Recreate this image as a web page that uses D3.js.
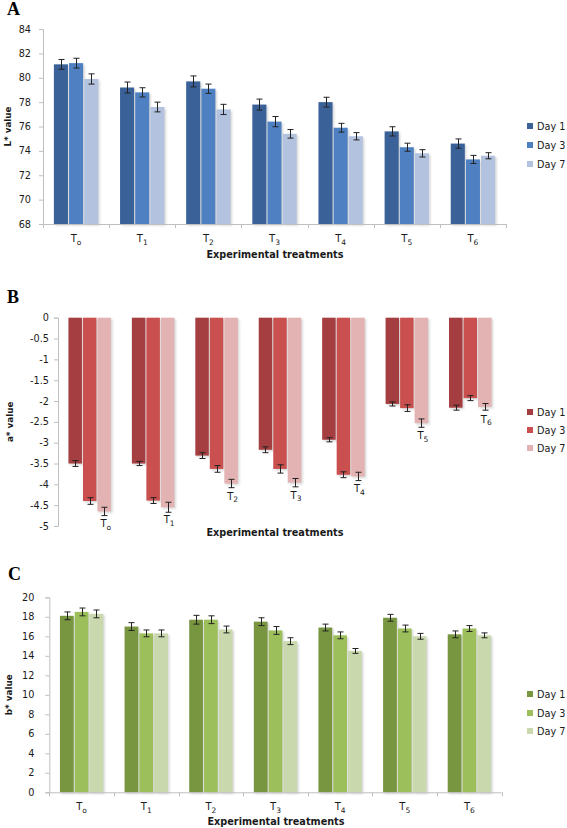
<!DOCTYPE html>
<html>
<head>
<meta charset="utf-8">
<script src="https://cdn.jsdelivr.net/npm/d3@7"></script>
<style>
  html, body { margin: 0; padding: 0; background: #ffffff; }
  svg { display: block; font-family: "DejaVu Sans", Verdana, sans-serif; }
</style>
</head>
<body>
<svg id="chart" width="567" height="828"></svg>
<script>
// ---------- DATA ----------
const categories = ["T0", "T1", "T2", "T3", "T4", "T5", "T6"];
const catSubs = ["o", "1", "2", "3", "4", "5", "6"];
const days = ["Day 1", "Day 3", "Day 7"];

// Panel A: L* value
const lDay1 = [81.1, 79.2, 79.7, 77.8, 78.0, 75.6, 74.6];
const lDay3 = [81.2, 78.8, 79.1, 76.4, 75.9, 74.3, 73.3];
const lDay7 = [79.9, 77.6, 77.4, 75.4, 75.2, 73.8, 73.6];
const lErr1 = [0.4, 0.45, 0.45, 0.45, 0.4, 0.38, 0.38];
const lErr3 = [0.4, 0.38, 0.38, 0.42, 0.36, 0.33, 0.33];
const lErr7 = [0.42, 0.4, 0.42, 0.35, 0.3, 0.3, 0.25];
const lTicks = [68, 70, 72, 74, 76, 78, 80, 82, 84];

// Panel B: a* value
const aDay1 = [-3.5, -3.5, -3.31, -3.17, -2.93, -2.07, -2.16];
const aDay3 = [-4.4, -4.39, -3.63, -3.63, -3.77, -2.17, -1.93];
const aDay7 = [-4.65, -4.55, -3.98, -3.96, -3.81, -2.53, -2.14];
const aErr1 = [0.07, 0.05, 0.07, 0.07, 0.05, 0.05, 0.06];
const aErr3 = [0.08, 0.07, 0.08, 0.1, 0.07, 0.08, 0.06];
const aErr7 = [0.1, 0.12, 0.1, 0.1, 0.1, 0.1, 0.08];
const aTicks = [0, -0.5, -1, -1.5, -2, -2.5, -3, -3.5, -4, -4.5, -5];

// Panel C: b* value
const bDay1 = [18.1, 17.0, 17.7, 17.5, 16.9, 17.9, 16.2];
const bDay3 = [18.5, 16.3, 17.7, 16.6, 16.1, 16.8, 16.8];
const bDay7 = [18.3, 16.3, 16.7, 15.5, 14.5, 16.0, 16.1];
const bErr1 = [0.4, 0.4, 0.45, 0.4, 0.35, 0.35, 0.35];
const bErr3 = [0.4, 0.35, 0.4, 0.4, 0.35, 0.35, 0.3];
const bErr7 = [0.4, 0.35, 0.35, 0.35, 0.25, 0.3, 0.25];
const bTicks = [0, 2, 4, 6, 8, 10, 12, 14, 16, 18, 20];

// ---------- DRAW ----------
const svg = d3.select("#chart");
const defs = svg.append("defs");
defs.append("filter").attr("id", "blur").attr("x", "-20%").attr("y", "-20%").attr("width", "140%").attr("height", "140%")
  .append("feGaussianBlur").attr("stdDeviation", 0.9);

const AXIS = "#bfbfbf";
const TEXT = "#1a1a1a";

function panel(cfg) {
  const g = svg.append("g");
  const y = d3.scaleLinear().domain(cfg.domain).range(cfg.yRange);
  const x0 = d3.scaleBand().domain(categories).range(cfg.xRange).padding(0);
  const x1 = d3.scaleBand().domain(days).range([0, x0.bandwidth()]).paddingInner(0.07).paddingOuter(0.72);

  const series = cfg.values.map((vals, si) => vals.map((v, ci) => ({
    day: days[si], cat: categories[ci], ci, si, v, e: cfg.errors[si][ci]
  })));
  const flat = series.flat();
  const base = cfg.base;

  // shadows
  g.append("g").selectAll("rect").data(flat).join("rect")
    .attr("x", d => x0(d.cat) + x1(d.day) + 1.5)
    .attr("y", d => Math.min(y(d.v), y(base)) + 1.5)
    .attr("width", x1.bandwidth())
    .attr("height", d => Math.abs(y(d.v) - y(base)))
    .attr("fill", "#c8c8c8").attr("opacity", 0.75)
    .attr("filter", "url(#blur)");

  // bars
  g.append("g").selectAll("rect").data(flat).join("rect")
    .attr("x", d => x0(d.cat) + x1(d.day))
    .attr("y", d => Math.min(y(d.v), y(base)))
    .attr("width", x1.bandwidth())
    .attr("height", d => Math.abs(y(d.v) - y(base)))
    .attr("fill", d => cfg.colors[d.si]);

  // error bars
  const eg = g.append("g").attr("stroke", "#222").attr("stroke-width", 1).attr("fill", "none");
  flat.forEach(d => {
    const cx = Math.round(x0(d.cat) + x1(d.day) + x1.bandwidth() / 2) + 0.5;
    const y1 = y(d.v + d.e), y2 = y(d.v - d.e);
    eg.append("line").attr("x1", cx).attr("x2", cx).attr("y1", y1).attr("y2", y2);
    eg.append("line").attr("x1", cx - 3).attr("x2", cx + 3).attr("y1", y1).attr("y2", y1);
    eg.append("line").attr("x1", cx - 3).attr("x2", cx + 3).attr("y1", y2).attr("y2", y2);
  });

  // y axis
  const ya = g.append("g").attr("transform", `translate(${cfg.xRange[0]},0)`)
    .call(d3.axisLeft(y).tickValues(cfg.ticks).tickSize(4).tickPadding(cfg.tickPad)
      .tickFormat(d => d3.format("")(d).replace("−", "-")));
  ya.select(".domain").attr("stroke", AXIS);
  ya.selectAll(".tick line").attr("stroke", AXIS);
  ya.selectAll(".tick text").attr("fill", TEXT).attr("font-size", 9.7)
    .attr("font-family", "DejaVu Sans, Verdana, sans-serif");

  // x axis
  if (cfg.xAxis) {
    const xa = g.append("g").attr("transform", `translate(0,${cfg.yRange[0]})`);
    xa.append("line").attr("x1", cfg.xRange[0]).attr("x2", cfg.xRange[1])
      .attr("y1", 0.5).attr("y2", 0.5).attr("stroke", AXIS);
    const edges = categories.map(c => x0(c)).concat([cfg.xRange[1]]);
    xa.selectAll("line.tk").data(edges).join("line").attr("class", "tk")
      .attr("x1", d => Math.round(d) + 0.5).attr("x2", d => Math.round(d) + 0.5)
      .attr("y1", 0).attr("y2", 4).attr("stroke", AXIS);
  }

  // category labels
  categories.forEach((c, ci) => {
    let lx, ly;
    if (cfg.labelMode === "below") {
      lx = x0(c) + x0.bandwidth() / 2;
      ly = cfg.labelY;
    } else {
      const d = series[2][ci];
      lx = x0(c) + x1(d.day) + x1.bandwidth() / 2 + 1.5;
      ly = y(d.v) + 16;
    }
    const t = g.append("text").attr("x", lx).attr("y", ly).attr("text-anchor", "middle")
      .attr("font-size", 10).attr("fill", TEXT);
    t.append("tspan").text("T");
    t.append("tspan").attr("font-size", 7.5).attr("dy", 2.5).text(catSubs[ci]);
  });

  // axis titles
  g.append("text").attr("x", cfg.titleX).attr("y", cfg.titleY).attr("text-anchor", "middle")
    .attr("font-size", 9.7).attr("font-weight", "bold").attr("fill", TEXT)
    .text("Experimental treatments");
  const yc = (cfg.yRange[0] + cfg.yRange[1]) / 2;
  g.append("text").attr("transform", `translate(${cfg.yTitleX},${yc}) rotate(-90)`)
    .attr("text-anchor", "middle").attr("font-size", 8.8).attr("font-weight", "bold").attr("fill", TEXT)
    .text(cfg.yTitle);

  // panel letter
  g.append("text").attr("x", cfg.letterPos[0]).attr("y", cfg.letterPos[1])
    .attr("font-family", "Liberation Serif, Times New Roman, serif").attr("font-weight", "bold")
    .attr("font-size", 18).attr("fill", "#000").text(cfg.letter);

  // legend
  days.forEach((dname, i) => {
    const ly = cfg.legendY[i];
    g.append("rect").attr("x", 527).attr("y", ly - 3).attr("width", 6).attr("height", 6)
      .attr("fill", cfg.colors[i]);
    g.append("text").attr("x", 537).attr("y", ly + 3.5).attr("font-size", 9.7).attr("fill", TEXT).text(dname);
  });
}

panel({
  letter: "A", letterPos: [7, 15],
  domain: [68, 84], yRange: [224, 29], xRange: [43, 506], base: 68,
  values: [lDay1, lDay3, lDay7], errors: [lErr1, lErr3, lErr7], ticks: lTicks, tickPad: 8,
  colors: ["#3b6298", "#4f81c2", "#b3c2de"],
  xAxis: true, labelMode: "below", labelY: 242,
  titleX: 275, titleY: 258, yTitle: "L* value", yTitleX: 11,
  legendY: [126, 145, 164]
});

panel({
  letter: "B", letterPos: [7, 303],
  domain: [-5, 0], yRange: [526, 317.7], xRange: [58, 502], base: 0,
  values: [aDay1, aDay3, aDay7], errors: [aErr1, aErr3, aErr7], ticks: aTicks, tickPad: 5,
  colors: ["#a53e40", "#c9504f", "#e3b3b3"],
  xAxis: false, labelMode: "bar",
  titleX: 275, titleY: 536, yTitle: "a* value", yTitleX: 13,
  legendY: [412, 430, 448]
});

panel({
  letter: "C", letterPos: [8, 580],
  domain: [0, 20], yRange: [792.3, 597.3], xRange: [49.3, 501.7], base: 0,
  values: [bDay1, bDay3, bDay7], errors: [bErr1, bErr3, bErr7], ticks: bTicks, tickPad: 11,
  colors: ["#78963f", "#9dbf5b", "#c9d9ad"],
  xAxis: true, labelMode: "below", labelY: 810,
  titleX: 276, titleY: 825, yTitle: "b* value", yTitleX: 12,
  legendY: [694, 713, 731]
});
</script>
</body>
</html>
